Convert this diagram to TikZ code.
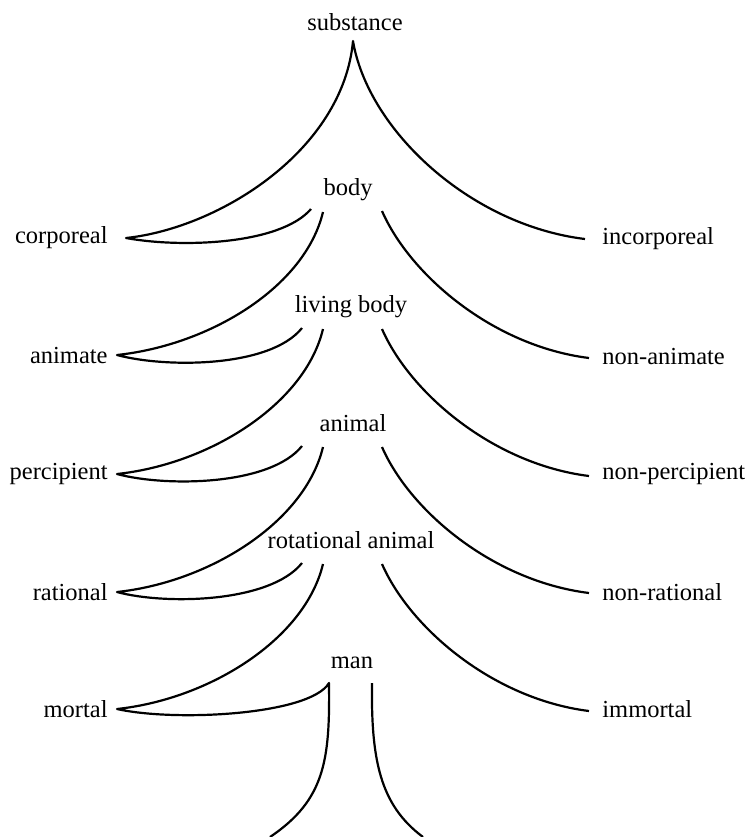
\documentclass[tikz,border=0pt]{standalone}
\usepackage{fontspec}
\setmainfont{Liberation Serif}
\tikzset{
  genus/.style={
    font=\fontsize{12.25}{14}\selectfont,
    inner sep=0pt,
    text=black
  },
  left term/.style={
    genus,
    anchor=east
  },
  right term/.style={
    genus,
    anchor=west
  },
  branch/.style={
    draw=black,
    line width=1.1pt,
    line join=round
  }
}
\begin{document}
\begin{tikzpicture}[x=0.5pt,y=-0.5pt]
  \useasboundingbox (0,0) rectangle (751,837);

  % species down the middle
  \node[genus] (substance) at (355,22) {substance};
  \node[genus] (body) at (348,190) {body};
  \node[genus] (living-body) at (351,307) {living body};
  \node[genus] (animal) at (353,423) {animal};
  \node[genus] (rotational-animal) at (351,540) {rotational animal};
  \node[genus] (man) at (352,663) {man};

  % differentiae
  \node[left term] (corporeal) at (108,238) {corporeal};
  \node[left term] (animate) at (108,355) {animate};
  \node[left term] (percipient) at (108,474) {percipient};
  \node[left term] (rational) at (108,592) {rational};
  \node[left term] (mortal) at (108,709) {mortal};
  \node[right term] (incorporeal) at (602,239) {incorporeal};
  \node[right term] (non-animate) at (602,356) {non-animate};
  \node[right term] (non-percipient) at (602,474) {non-percipient};
  \node[right term] (non-rational) at (602,592) {non-rational};
  \node[right term] (immortal) at (602,709) {immortal};

  % branch points
  \coordinate (apex) at (353,41);
  \coordinate (corporeal-tip) at (126,238);
  \coordinate (incorporeal-end) at (585,239);
  \coordinate (body-hook) at (311,209);
  \coordinate (body-left) at (323,212);
  \coordinate (body-right) at (382,211);
  \coordinate (animate-tip) at (117,355);
  \coordinate (non-animate-end) at (589,358);
  \coordinate (living-hook) at (302,328);
  \coordinate (living-left) at (323,329);
  \coordinate (living-right) at (382,329);
  \coordinate (percipient-tip) at (117,474);
  \coordinate (non-percipient-end) at (589,476);
  \coordinate (animal-hook) at (302,446);
  \coordinate (animal-left) at (323,447);
  \coordinate (animal-right) at (382,447);
  \coordinate (rational-tip) at (117,592);
  \coordinate (non-rational-end) at (589,593);
  \coordinate (rotational-hook) at (302,563);
  \coordinate (rotational-left) at (323,564);
  \coordinate (rotational-right) at (382,564);
  \coordinate (mortal-tip) at (117,709);
  \coordinate (immortal-end) at (589,711);
  \coordinate (man-left) at (329,683);
  \coordinate (man-right) at (372,683);
  \coordinate (root-left) at (270,837);
  \coordinate (root-right) at (423,837);

  \draw[branch] (body-hook) .. controls +(-31,36) and +(54,10) .. (corporeal-tip)
    .. controls +(94,-10) and +(-10,109) .. (apex)
    .. controls +(15,89) and +(-115,-14) .. (incorporeal-end);

  \draw[branch] (body-left) .. controls +(-18,75) and +(93,-10) .. (animate-tip)
    .. controls +(48,13) and +(-32,40) .. (living-hook);
  \draw[branch] (body-right) .. controls +(28,64) and +(-96,-12) .. (non-animate-end);

  \draw[branch] (living-left) .. controls +(-18,75) and +(93,-10) .. (percipient-tip)
    .. controls +(48,13) and +(-32,40) .. (animal-hook);
  \draw[branch] (living-right) .. controls +(28,64) and +(-96,-12) .. (non-percipient-end);

  \draw[branch] (animal-left) .. controls +(-18,75) and +(93,-10) .. (rational-tip)
    .. controls +(48,13) and +(-32,40) .. (rotational-hook);
  \draw[branch] (animal-right) .. controls +(28,64) and +(-96,-12) .. (non-rational-end);

  \draw[branch] (rotational-left) .. controls +(-18,75) and +(93,-10) .. (mortal-tip)
    .. controls +(58,13) and +(-19,32) .. (man-left)
    .. controls +(1,77) and +(55,-37) .. (root-left);
  \draw[branch] (rotational-right) .. controls +(28,64) and +(-96,-12) .. (immortal-end);
  \draw[branch] (man-right) .. controls +(-1,77) and +(-43,-32) .. (root-right);
\end{tikzpicture}
\end{document}
